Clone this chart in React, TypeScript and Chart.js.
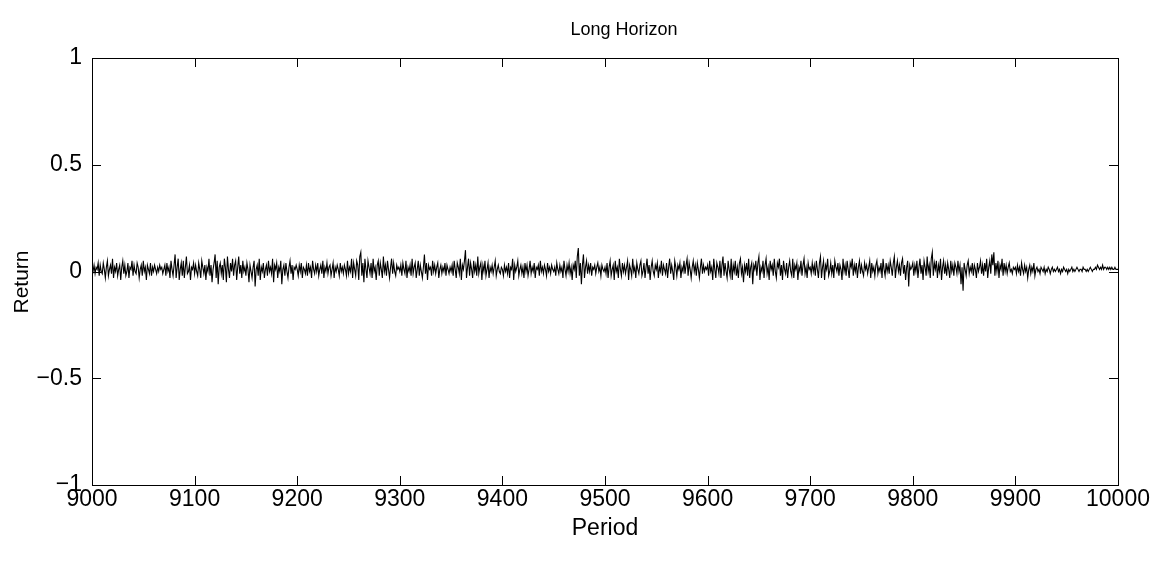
import React, { useEffect, useRef } from "react";
import { Chart, registerables } from "chart.js";

Chart.register(...registerables);

// ---- Data (returns in percent, one value per period) ----
const firstPeriod = 9000;

const returnsPct9000 = [
  2, 0, 3, -1, 2, 1, 4, -2, 3, 0,
  -1, 4, 1, -3, 2, 5, -2, 1, 3, -1,
  6, -3, 2, 0, 4, -2, 1, 3, -4, 2,
  5, -1, 3, -2, 0, 4, -3, 2, 1, 5,
  -2, 3, 0, -1, 4, 2, -3, 1, 3, -2,
  5, 0, 2, -4, 3, 1, -1, 4, -2, 2,
  0, 3, 1, -1, 2, 0, 3, 1, 2, -1,
  1, 3, -2, 4, 0, 2, -3, 5, 1, -2,
  3, 8, -3, 2, 6, -4, 1, 4, -2, 5,
  -3, 2, 7, -1, 0, 3, -4, 2, 1, 4,
];
const returnsPct9100 = [
  -1, 3, 0, -2, 4, 1, -3, 5, 2, -1,
  3, -4, 2, 0, 6, -2, 3, -5, 1, 4,
  8, -3, 5, -6, 2, 4, -1, 3, -4, 6,
  2, -5, 7, 1, -3, 4, 0, 6, -2, 3,
  5, -4, 2, 7, -1, 3, -3, 5, 0, 2,
  -2, 4, 1, -5, 3, 0, -3, 2, 5, -7,
  1, 3, -2, 6, -4, 2, 0, 4, -3, 1,
  3, -2, 5, 0, 2, -1, 6, -5, 3, 1,
  4, -3, 2, 0, 5, -6, 1, 3, -2, 4,
  0, -3, 2, 5, -1, 3, -4, 2, 1, 3,
];
const returnsPct9200 = [
  1, -2, 3, 0, 4, -3, 2, 1, -1, 3,
  -2, 4, 0, 2, -3, 5, 1, -1, 3, 0,
  4, -2, 1, 3, -1, 5, -3, 2, 0, 4,
  -1, 2, 3, -2, 1, 4, -3, 2, 0, 3,
  1, -2, 4, 0, 2, -1, 3, 1, -2, 5,
  -1, 2, 0, 6, -3, 4, 1, -2, 5, 3,
  -4, 7, 9, -2, 4, -5, 6, 1, -3, 5,
  2, -1, 4, -3, 6, 0, 2, -4, 3, 5,
  -2, 4, 1, -3, 7, 0, 3, -2, 5, 1,
  -3, 2, 6, -1, 4, 0, -2, 3, 1, 2,
];
const returnsPct9300 = [
  0, 3, -2, 4, 1, -1, 5, -3, 2, 0,
  3, -2, 6, -1, 2, 4, -3, 1, 5, -2,
  3, 0, -3, 2, 8, -1, 4, -4, 3, 1,
  2, -2, 5, 0, 3, -1, 2, 4, -3, 1,
  3, -1, 2, 0, 4, -2, 3, 1, -1, 2,
  0, 3, -2, 5, 1, -3, 4, 2, -1, 6,
  -4, 3, 1, 5, 10, -3, 2, 6, -2, 4,
  1, -3, 5, 0, 3, -2, 7, -1, 2, 4,
  -4, 3, 0, 5, -2, 1, 4, -3, 2, 0,
  3, -1, 2, 5, -2, 1, 3, 0, -1, 2,
];
const returnsPct9400 = [
  1, -2, 3, 0, 2, -1, 4, -3, 2, 1,
  6, -4, 3, 0, 2, 5, -2, 1, 3, -1,
  2, -3, 4, 0, 3, -2, 1, 5, -1, 2,
  0, 4, -3, 2, 1, 3, -2, 5, 0, 2,
  -1, 3, 1, -2, 4, 0, 2, -1, 3, 1,
  0, 2, -2, 4, 1, -1, 3, 0, 2, -3,
  5, 1, -2, 3, 0, 4, -1, 2, -4, 3,
  1, 5, -3, 7, 11, -2, 4, -6, 3, 8,
  -3, 2, 5, -1, 3, 0, 4, -2, 2, 1,
  3, -1, 2, 4, 0, 2, -2, 3, 1, 0,
];
const returnsPct9500 = [
  2, -1, 4, -3, 2, 5, -2, 1, 3, -4,
  5, 0, 2, -3, 6, 1, -2, 4, 0, 3,
  -1, 2, 5, -4, 3, 1, -2, 6, 0, 2,
  -3, 4, 1, -1, 3, 5, -2, 0, 4, -3,
  2, 6, -1, 3, -4, 2, 5, 0, -2, 3,
  1, 4, -3, 2, 0, 5, -2, 3, 1, -1,
  4, -3, 2, 6, -1, 3, 0, -4, 5, 2,
  -2, 3, 1, 4, -3, 2, 0, 5, -1, 3,
  6, -2, 4, 1, -3, 2, 5, 0, 3, -2,
  4, 1, -3, 2, 6, -1, 3, 0, 2, 1,
];
const returnsPct9600 = [
  3, -2, 5, 0, 2, -4, 6, 1, -3, 4,
  2, -1, 5, -3, 3, 7, -2, 4, 0, -3,
  5, 1, -2, 6, -4, 3, 0, 5, -2, 2,
  -3, 4, 6, -1, 2, -5, 3, 0, 4, -2,
  6, -3, 2, 4, -6, 3, 1, 5, -2, 4,
  7, -4, 2, 0, 5, -3, 3, 6, -1, 2,
  -4, 5, 1, 3, -2, 6, 0, -3, 4, 2,
  6, -2, 3, -4, 5, 1, -1, 4, -3, 2,
  5, 0, -2, 6, -3, 3, 1, 4, -4, 2,
  0, 5, -2, 3, 6, -1, 2, -3, 4, 1,
];
const returnsPct9700 = [
  2, -1, 4, 0, 3, -2, 5, 1, -3, 4,
  7, -3, 2, 5, -4, 3, 1, 6, -2, 0,
  4, -1, 3, -3, 5, 2, 0, 4, -2, 3,
  1, -4, 6, 0, 3, -2, 5, 1, -3, 4,
  2, 6, -2, 3, 0, 4, -3, 2, 5, -1,
  3, 0, -2, 4, 1, 3, -1, 2, 5, -3,
  4, 0, 2, -2, 3, 5, -1, 2, 0, 4,
  -3, 6, 1, -2, 4, 0, 3, -1, 5, 2,
  -2, 4, 7, -3, 2, 5, 0, 3, -2, 4,
  6, -1, 3, -4, 2, 5, -7, 3, 1, 2,
];
const returnsPct9800 = [
  4, -2, 3, 0, 5, -3, 2, 6, -1, 3,
  -4, 5, 2, -2, 7, 0, 3, -3, 6, 9,
  -2, 4, 1, 5, -3, 3, 0, 6, -4, 2,
  5, -1, 3, -2, 4, 1, -3, 5, 0, 3,
  -2, 4, 2, -1, 5, 0, 3, -6, 2, -9,
  4, 1, -2, 3, 5, -1, 2, 0, 4, -2,
  3, 1, -3, 4, 0, 2, 5, -1, 3, -2,
  4, 0, 6, -3, 2, 5, -1, 8, 3, 9,
  -2, 4, 0, 5, -3, 3, 1, 6, -2, 4,
  0, 3, -1, 2, 4, 0, 1, -1, 2, 1,
];
const returnsPct9900 = [
  2, -1, 3, 0, 2, -2, 4, 1, -1, 3,
  0, 2, -3, 1, 3, -1, 2, 0, 4, -2,
  1, 2, 0, 1, -1, 2, 1, 0, 2, -1,
  1, 0, 2, 1, -1, 1, 2, 0, 1, 0,
  1, 2, 0, 1, -1, 1, 0, 2, 1, 0,
  1, -1, 1, 0, 1, 2, 0, 1, 0, 1,
  2, 1, 0, 1, 1, 0, 2, 1, 1, 0,
  1, 0, 1, 2, 1, 0, 1, 1, 2, 1,
  3, 2, 1, 2, 1, 3, 1, 2, 2, 1,
  2, 1, 2, 1, 2, 1, 1, 2, 1, 1,
  1,
];

const returnsPct = [
  ...returnsPct9000, ...returnsPct9100, ...returnsPct9200, ...returnsPct9300,
  ...returnsPct9400, ...returnsPct9500, ...returnsPct9600, ...returnsPct9700,
  ...returnsPct9800, ...returnsPct9900,
];

const xTickValues = [9000, 9100, 9200, 9300, 9400, 9500, 9600, 9700, 9800, 9900, 10000];
const yTickValues = [1, 0.5, 0, -0.5, -1];
const yTickLabels = ["1", "0.5", "0", "\u22120.5", "\u22121"];

const titleText = "Long Horizon";
const xLabel = "Period";
const yLabel = "Return";

const FONT = "'Liberation Sans', Arial, Helvetica, sans-serif";

const framePlugin = {
  id: "matlabFrame",
  afterDatasetsDraw(chart: any) {
    const { ctx, chartArea, scales } = chart;
    const { left, right, top, bottom } = chartArea;
    const L = 9;
    ctx.save();
    ctx.strokeStyle = "#000";
    ctx.lineWidth = 1;
    ctx.strokeRect(Math.round(left) + 0.5, Math.round(top) + 0.5, Math.round(right - left), Math.round(bottom - top));
    ctx.beginPath();
    for (const v of xTickValues) {
      const px = Math.round(scales.x.getPixelForValue(v)) + 0.5;
      ctx.moveTo(px, bottom);
      ctx.lineTo(px, bottom - L);
      ctx.moveTo(px, top);
      ctx.lineTo(px, top + L);
    }
    for (const v of yTickValues) {
      const py = Math.round(scales.y.getPixelForValue(v)) + 0.5;
      ctx.moveTo(left, py);
      ctx.lineTo(left + L, py);
      ctx.moveTo(right, py);
      ctx.lineTo(right - L, py);
    }
    ctx.stroke();
    ctx.fillStyle = "#000";
    ctx.textAlign = "center";
    ctx.textBaseline = "middle";
    // title
    ctx.font = `18px ${FONT}`;
    ctx.fillText(titleText, 624, 30);
    // y-axis label
    ctx.font = `21px ${FONT}`;
    ctx.translate(22, 282);
    ctx.rotate(-Math.PI / 2);
    ctx.fillText(yLabel, 0, 0);
    ctx.restore();
  },
};

export default function App() {
  const canvasRef = useRef<HTMLCanvasElement | null>(null);

  useEffect(() => {
    document.body.style.margin = "0";
    const canvas = canvasRef.current;
    if (!canvas) return;
    const points = returnsPct.map((r, i) => ({ x: firstPeriod + i, y: r / 100 }));
    const chart = new Chart(canvas, {
      type: "line",
      data: {
        datasets: [
          {
            data: points,
            borderColor: "#000",
            borderWidth: 1.1,
            pointRadius: 0,
            tension: 0,
            fill: false,
          },
        ],
      },
      options: {
        responsive: false,
        animation: false,
        events: [],
        layout: { padding: { left: 0, right: 38, top: 58, bottom: 0 } },
        plugins: {
          legend: { display: false },
          tooltip: { enabled: false },
          title: { display: false },
        },
        scales: {
          x: {
            type: "linear",
            min: 9000,
            max: 10000,
            grid: { display: false, drawTicks: false },
            border: { display: false },
            afterBuildTicks: (scale: any) => {
              scale.ticks = xTickValues.map((v) => ({ value: v }));
            },
            afterFit: (scale: any) => {
              scale.height = 78;
            },
            ticks: {
              color: "#000",
              font: { family: FONT, size: 23 },
              padding: 1,
              maxRotation: 0,
              autoSkip: false,
              callback: (v: any) => String(v),
            },
            title: {
              display: true,
              text: xLabel,
              color: "#000",
              font: { family: FONT, size: 23 },
              padding: { top: 0, bottom: 21 },
            },
          },
          y: {
            type: "linear",
            min: -1,
            max: 1,
            grid: { display: false, drawTicks: false },
            border: { display: false },
            afterBuildTicks: (scale: any) => {
              scale.ticks = yTickValues.map((v) => ({ value: v }));
            },
            afterFit: (scale: any) => {
              scale.width = 92;
            },
            ticks: {
              color: "#000",
              font: { family: FONT, size: 23 },
              padding: 10,
              autoSkip: false,
              callback: (v: any) => {
                const idx = yTickValues.indexOf(Number(v));
                return idx >= 0 ? yTickLabels[idx] : "";
              },
            },
            title: { display: false },
          },
        },
      },
      plugins: [framePlugin],
    });
    return () => chart.destroy();
  }, []);

  return (
    <div style={{ position: "absolute", left: 0, top: 0, width: 1156, height: 563, background: "#fff" }}>
      <canvas ref={canvasRef} width={1156} height={563} style={{ display: "block" }} />
    </div>
  );
}
